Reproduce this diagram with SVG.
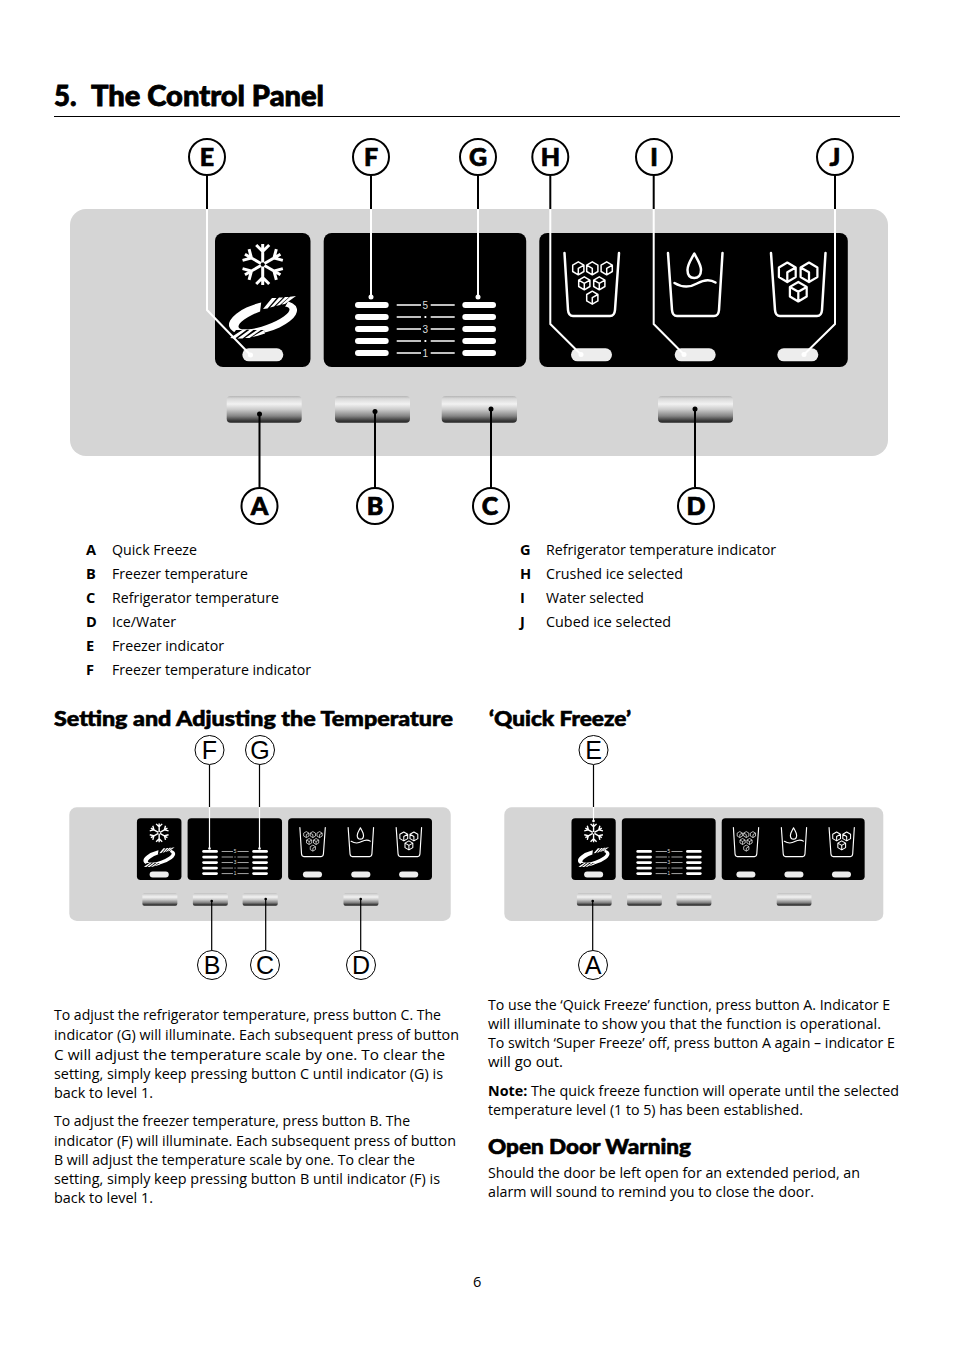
<svg xmlns="http://www.w3.org/2000/svg" width="954" height="1350" viewBox="0 0 954 1350">
<style>
text{font-family:"Open Sans","Noto Sans","Liberation Sans",sans-serif;fill:#000}
.b{font-size:14.6px}
.k{font-size:14.6px;font-weight:700}
.t{font-family:Lato,"Open Sans",sans-serif;font-size:27.500px;font-weight:900;stroke:#000;stroke-width:.8px}
.h{font-family:Lato,"Open Sans",sans-serif;font-size:20.500px;font-weight:900;stroke:#000;stroke-width:.6px}
.big{font-family:Lato,"Open Sans",sans-serif;font-size:25px;font-weight:900;text-anchor:middle;stroke:#000;stroke-width:.7px}
.small{font-family:"Liberation Sans",Arial,sans-serif;font-size:25px;text-anchor:middle}
.cb{fill:#fff;stroke:#000;stroke-width:2}
.cs{fill:#fff;stroke:#000;stroke-width:1}
.lk{fill:none;stroke:#000;stroke-width:2}
.lw{fill:none;stroke:#fff;stroke-width:2}
.lk1{fill:none;stroke:#000;stroke-width:1.2}
.lw1{fill:none;stroke:#fff;stroke-width:1.2}
.ic{fill:none;stroke:#fff;stroke-width:2.500;stroke-linecap:round;stroke-linejoin:round}
.cube{fill:none;stroke:#fff;stroke-width:1.500;stroke-linejoin:round}
.bar{fill:#fff}
.lz{fill:#ededed}
.tick{stroke:#fff;stroke-width:1.400}
.num{font-family:"Liberation Sans",Arial,sans-serif;font-size:10px;fill:#ddd;text-anchor:middle}
.arm{fill:none;stroke:#fff;stroke-width:3}
</style>
<defs>
<linearGradient id="btn" x1="0" y1="0" x2="0" y2="1">
<stop offset="0" stop-color="#b5b5b5"/><stop offset=".1" stop-color="#d8d8d8"/><stop offset=".3" stop-color="#f2f2f2"/><stop offset=".5" stop-color="#cccccc"/><stop offset=".75" stop-color="#858585"/><stop offset=".92" stop-color="#3a3a3a"/><stop offset="1" stop-color="#262626"/>
</linearGradient>
<path id="cubeA" class="cube" d="M0-6.500 5.600-3.200V3.200L0 6.500-5.600 3.200V-3.200ZM-5.600-3.200 0 0 5.600-3.200M0 0V6.500"/>
<path id="cubeB" class="cube" d="M0-6.500 5.600-3.200V3.200L0 6.500-5.600 3.200V-3.200ZM5.600-3.200 0 0V6.500"/>
<path id="cubeC" class="cube" d="M0-6.500 5.600-3.200V3.200L0 6.500-5.600 3.200V-3.200ZM-5.600-3.200 0 0V6.500"/>
<path id="arm" class="arm" d="M0-2V-20.500M-6.500-19.500 0-13 6.500-19.500"/>
<g id="panel">
<rect x="70" y="209" width="818" height="247" rx="16" fill="#d5d5d5"/>
<rect x="215" y="233" width="95.500" height="134" rx="8"/>
<rect x="323.700" y="233" width="202.500" height="134" rx="8"/>
<rect x="539.300" y="233" width="308.500" height="134" rx="8"/>
<g transform="translate(262.700 264.500)"><use href="#arm"/><use href="#arm" transform="rotate(60)"/><use href="#arm" transform="rotate(120)"/><use href="#arm" transform="rotate(180)"/><use href="#arm" transform="rotate(240)"/><use href="#arm" transform="rotate(300)"/></g>
<ellipse cx="263" cy="317.500" rx="35" ry="15" fill="#fff" transform="rotate(-15 263 317.500)"/>
<ellipse cx="264" cy="318" rx="27" ry="7.500" transform="rotate(-20 264 318)"/>
<path d="M260 312 262 296H291L285 307ZM228 340 236 330 264 330 266 340Z"/>
<path fill="#fff" d="M263 309 272 298H276.500L267.500 308.500ZM270 307.500 279 297.500H283L274 306.500ZM276 306 285 297H289L280 305ZM281.500 304.500 290 296.800 296 296 285 304Z"/>
<path fill="#fff" d="M230 338 243 329.500 247 329.500 235 338.500ZM237.500 338.500 250 329.500 254 329.500 242.500 338.500ZM245 338 257 330 261 330 249.500 338ZM252 337 264 330 265 333.500 257 336Z"/>
<rect class="lz" x="242.300" y="348.300" width="41" height="13" rx="6.500"/>
<g class="bar">
<rect x="355" y="302" width="33.700" height="6" rx="3"/><rect x="355" y="314" width="33.700" height="6" rx="3"/><rect x="355" y="326" width="33.700" height="6" rx="3"/><rect x="355" y="338" width="33.700" height="6" rx="3"/><rect x="355" y="350" width="33.700" height="6" rx="3"/>
<rect x="462.300" y="302" width="33.700" height="6" rx="3"/><rect x="462.300" y="314" width="33.700" height="6" rx="3"/><rect x="462.300" y="326" width="33.700" height="6" rx="3"/><rect x="462.300" y="338" width="33.700" height="6" rx="3"/><rect x="462.300" y="350" width="33.700" height="6" rx="3"/>
</g>
<path class="tick" d="M396.700 305H421M430.700 305H454.700M396.700 317H421M430.700 317H454.700M396.700 329H421M430.700 329H454.700M396.700 341H421M430.700 341H454.700M396.700 353H421M430.700 353H454.700"/>
<text class="num" x="425.300" y="308.500">5</text><text class="num" x="425.300" y="332.500">3</text><text class="num" x="425.300" y="356.500">1</text>
<rect x="424.500" y="316" width="1.800" height="2" fill="#fff"/><rect x="424.500" y="340" width="1.800" height="2" fill="#fff"/>
<rect class="lz" x="571" y="348.300" width="41" height="13" rx="6.500"/><rect class="lz" x="674.700" y="348.300" width="41" height="13" rx="6.500"/><rect class="lz" x="777.300" y="348.300" width="41" height="13" rx="6.500"/>
<path class="ic" d="M564.500 253 568 310Q568.500 316 573 316H610Q614.500 316 615 310L619 253"/>
<path class="ic" d="M668 253 672 310Q672.500 316 677 316H714Q718.500 316 719 310L722.500 253"/>
<path class="ic" d="M771 253 775 310Q775.500 316 780 316H817Q821.500 316 822 310L825.500 253"/>
<use href="#cubeB" x="578.300" y="268.300"/><use href="#cubeC" x="592.300" y="268.300"/><use href="#cubeB" x="606.700" y="268.300"/><use href="#cubeA" x="584.300" y="283.300"/><use href="#cubeA" x="599.300" y="283.300"/><use href="#cubeB" x="592.300" y="297.700"/>
<path class="ic" d="M694.300 253.500C691 260 687.500 264 687.500 270C687.500 275.500 690.500 278 694.300 278C698 278 701 275.500 701 270C701 264 697.500 260 694.300 253.500Z"/>
<path class="ic" d="M674.500 283C682 287.500 690 287.500 697 283.500C704 279.500 711 279.500 715.500 282.500"/>
<g transform="translate(787.300 272.300) scale(1.500)"><use href="#cubeB"/></g><g transform="translate(809 272.300) scale(1.500)"><use href="#cubeC"/></g><g transform="translate(798.300 291.700) scale(1.500)"><use href="#cubeA"/></g>
<rect x="226.700" y="396" width="75" height="26.700" rx="4" fill="url(#btn)"/><rect x="335" y="396" width="75" height="26.700" rx="4" fill="url(#btn)"/><rect x="441.700" y="396" width="75.300" height="26.700" rx="4" fill="url(#btn)"/><rect x="658" y="396" width="75" height="26.700" rx="4" fill="url(#btn)"/>
</g>
</defs>

<g id="title">
<text class="t" x="54" y="105.500">5.</text>
<text class="t" x="91" y="105.500" textLength="233" lengthAdjust="spacingAndGlyphs">The Control Panel</text>
<rect x="54" y="116" width="846" height="1"/>
</g>

<g id="main-panel"><use href="#panel"/></g>
<g id="small-panel-temperature"><use href="#panel" transform="translate(69.300 807.300) scale(.4663 .4603) translate(-70 -209)"/></g>
<g id="small-panel-quick-freeze"><use href="#panel" transform="translate(504.300 807.300) scale(.4633 .4603) translate(-70 -209)"/></g>

<g id="connectors">
<path class="lk" d="M207 176V209M371 176V209M478 176V209M550.300 176V209M653.700 176V209M835 176V209"/>
<path class="lw" d="M207 209V310L250 354.500M371 209V297M478 209V297M550.300 209V324L581 354.500M653.700 209V324L684 354.500M835 209V324L804 354.500"/>
<g fill="#fff"><circle cx="250.500" cy="355" r="2.500"/><circle cx="371" cy="297" r="2.500"/><circle cx="478" cy="297" r="2.500"/><circle cx="581" cy="354.500" r="2.500"/><circle cx="684" cy="354.500" r="2.500"/><circle cx="804" cy="354.500" r="2.500"/></g>
<path class="lk" d="M259.500 414V487M375 411.500V487M491 409V487M695 409V487"/>
<g><circle cx="259.500" cy="414" r="2.500"/><circle cx="375" cy="411.500" r="2.500"/><circle cx="491" cy="409" r="2.500"/><circle cx="695" cy="409" r="2.500"/></g>
<path class="lk1" d="M209.500 765V807M259.500 765V807M593.500 765V807M211.700 901V950M265.700 899V950M360.700 899V950M592.700 901V950"/>
<path class="lw1" d="M209.500 807V848M259.500 807V848M593.500 807V821"/>
<g fill="#fff"><circle cx="209.500" cy="848.500" r="1.300"/><circle cx="259.500" cy="848.500" r="1.300"/><circle cx="593.500" cy="821" r="1.300"/></g>
<g><circle cx="211.700" cy="901" r="1.300"/><circle cx="265.700" cy="899" r="1.300"/><circle cx="360.700" cy="899" r="1.300"/><circle cx="592.700" cy="901" r="1.300"/></g>
</g>

<g id="node-E"><circle class="cb" cx="207" cy="157" r="18"/><text class="big" x="207" y="166">E</text></g>
<g id="node-F"><circle class="cb" cx="371" cy="157" r="18"/><text class="big" x="371" y="166">F</text></g>
<g id="node-G"><circle class="cb" cx="478" cy="157" r="18"/><text class="big" x="478" y="166">G</text></g>
<g id="node-H"><circle class="cb" cx="550.300" cy="157" r="18"/><text class="big" x="550.300" y="166">H</text></g>
<g id="node-I"><circle class="cb" cx="654" cy="157" r="18"/><text class="big" x="654" y="166">I</text></g>
<g id="node-J"><circle class="cb" cx="835" cy="157" r="18"/><text class="big" x="835" y="166">J</text></g>
<g id="node-A"><circle class="cb" cx="259.500" cy="506" r="18"/><text class="big" x="259.500" y="515">A</text></g>
<g id="node-B"><circle class="cb" cx="375" cy="506" r="18"/><text class="big" x="375" y="515">B</text></g>
<g id="node-C"><circle class="cb" cx="491" cy="506" r="18"/><text class="big" x="490" y="515">C</text></g>
<g id="node-D"><circle class="cb" cx="696" cy="506" r="18"/><text class="big" x="696" y="515">D</text></g>

<g id="node-small-F"><circle class="cs" cx="209.500" cy="750" r="14.500"/><text class="small" x="209.500" y="759">F</text></g>
<g id="node-small-G"><circle class="cs" cx="260" cy="750" r="14.500"/><text class="small" x="260" y="759">G</text></g>
<g id="node-small-B"><circle class="cs" cx="212" cy="965" r="14.500"/><text class="small" x="212" y="974">B</text></g>
<g id="node-small-C"><circle class="cs" cx="265" cy="965" r="14.500"/><text class="small" x="265" y="974">C</text></g>
<g id="node-small-D"><circle class="cs" cx="361" cy="965" r="14.500"/><text class="small" x="361" y="974">D</text></g>
<g id="node-small-E"><circle class="cs" cx="593.500" cy="750" r="14.500"/><text class="small" x="593.500" y="759">E</text></g>
<g id="node-small-A"><circle class="cs" cx="593" cy="965" r="14.500"/><text class="small" x="593" y="974">A</text></g>

<g id="legend">
<text class="k" x="86" y="555">A</text><text class="b" x="112" y="555" textLength="85" lengthAdjust="spacingAndGlyphs">Quick Freeze</text>
<text class="k" x="86" y="579">B</text><text class="b" x="112" y="579" textLength="136" lengthAdjust="spacingAndGlyphs">Freezer temperature</text>
<text class="k" x="86" y="603">C</text><text class="b" x="112" y="603" textLength="167" lengthAdjust="spacingAndGlyphs">Refrigerator temperature</text>
<text class="k" x="86" y="627">D</text><text class="b" x="112" y="627" textLength="64" lengthAdjust="spacingAndGlyphs">Ice/Water</text>
<text class="k" x="86" y="651">E</text><text class="b" x="112" y="651" textLength="112" lengthAdjust="spacingAndGlyphs">Freezer indicator</text>
<text class="k" x="86" y="675">F</text><text class="b" x="112" y="675" textLength="199" lengthAdjust="spacingAndGlyphs">Freezer temperature indicator</text>
<text class="k" x="520" y="555">G</text><text class="b" x="546" y="555" textLength="230" lengthAdjust="spacingAndGlyphs">Refrigerator temperature indicator</text>
<text class="k" x="520" y="579">H</text><text class="b" x="546" y="579" textLength="137" lengthAdjust="spacingAndGlyphs">Crushed ice selected</text>
<text class="k" x="520" y="603">I</text><text class="b" x="546" y="603" textLength="98" lengthAdjust="spacingAndGlyphs">Water selected</text>
<text class="k" x="520" y="627">J</text><text class="b" x="546" y="627" textLength="125" lengthAdjust="spacingAndGlyphs">Cubed ice selected</text>
</g>

<g id="section-temperature">
<text class="h" x="54" y="726" textLength="399" lengthAdjust="spacingAndGlyphs">Setting and Adjusting the Temperature</text>
<text class="b" x="54" y="1020" textLength="387" lengthAdjust="spacingAndGlyphs">To adjust the refrigerator temperature, press button C. The</text>
<text class="b" x="54" y="1040" textLength="405" lengthAdjust="spacingAndGlyphs">indicator (G) will illuminate. Each subsequent press of button</text>
<text class="b" x="54" y="1060" textLength="391" lengthAdjust="spacingAndGlyphs">C will adjust the temperature scale by one. To clear the</text>
<text class="b" x="54" y="1079" textLength="389" lengthAdjust="spacingAndGlyphs">setting, simply keep pressing button C until indicator (G) is</text>
<text class="b" x="54" y="1098" textLength="99" lengthAdjust="spacingAndGlyphs">back to level 1.</text>
<text class="b" x="54" y="1126" textLength="356" lengthAdjust="spacingAndGlyphs">To adjust the freezer temperature, press button B. The</text>
<text class="b" x="54" y="1146" textLength="402" lengthAdjust="spacingAndGlyphs">indicator (F) will illuminate. Each subsequent press of button</text>
<text class="b" x="54" y="1165" textLength="361" lengthAdjust="spacingAndGlyphs">B will adjust the temperature scale by one. To clear the</text>
<text class="b" x="54" y="1184" textLength="386" lengthAdjust="spacingAndGlyphs">setting, simply keep pressing button B until indicator (F) is</text>
<text class="b" x="54" y="1203" textLength="99" lengthAdjust="spacingAndGlyphs">back to level 1.</text>
</g>

<g id="section-quick-freeze">
<text class="h" x="489" y="726" textLength="142" lengthAdjust="spacingAndGlyphs">‘Quick Freeze’</text>
<text class="b" x="488" y="1010" textLength="402" lengthAdjust="spacingAndGlyphs">To use the ‘Quick Freeze’ function, press button A. Indicator E</text>
<text class="b" x="488" y="1029" textLength="393" lengthAdjust="spacingAndGlyphs">will illuminate to show you that the function is operational.</text>
<text class="b" x="488" y="1048" textLength="407" lengthAdjust="spacingAndGlyphs">To switch ‘Super Freeze’ off, press button A again – indicator E</text>
<text class="b" x="488" y="1067" textLength="75" lengthAdjust="spacingAndGlyphs">will go out.</text>
<text class="b" x="488" y="1096" textLength="411" lengthAdjust="spacingAndGlyphs"><tspan font-weight="700">Note:</tspan> The quick freeze function will operate until the selected</text>
<text class="b" x="488" y="1115" textLength="315" lengthAdjust="spacingAndGlyphs">temperature level (1 to 5) has been established.</text>
</g>

<g id="section-open-door">
<text class="h" x="488" y="1154" textLength="203" lengthAdjust="spacingAndGlyphs">Open Door Warning</text>
<text class="b" x="488" y="1178" textLength="372" lengthAdjust="spacingAndGlyphs">Should the door be left open for an extended period, an</text>
<text class="b" x="488" y="1197" textLength="326" lengthAdjust="spacingAndGlyphs">alarm will sound to remind you to close the door.</text>
</g>

<text class="b" x="473" y="1287">6</text>
</svg>
